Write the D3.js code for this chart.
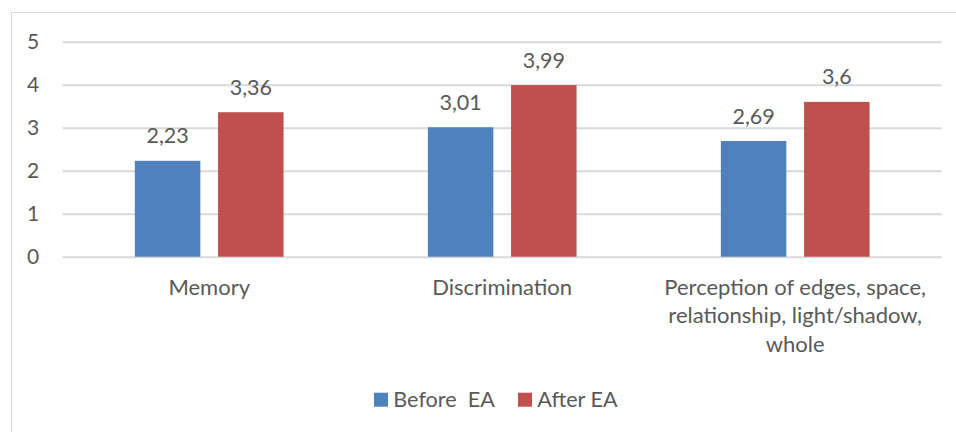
<!DOCTYPE html>
<html>
<head>
<meta charset="utf-8">
<script src="https://cdn.jsdelivr.net/npm/d3@7"></script>
<style>
  html, body { margin: 0; padding: 0; background: #fff; }
  svg text { font-family: Lato, "Open Sans", sans-serif; fill: #595959; }
</style>
</head>
<body>
<svg id="chart" width="956" height="432"></svg>
<script>
// Scores before and after the EA programme, per skill category
const categories = ["Memory", "Discrimination", "Perception of edges, space, relationship, light/shadow, whole"];
const categoryLines = [["Memory"], ["Discrimination"], ["Perception of edges, space,", "relationship, light/shadow,", "whole"]];
const seriesNames = ["Before  EA", "After EA"];
const beforeValues = [2.23, 3.01, 2.69];
const afterValues = [3.36, 3.99, 3.6];
const valueLabels = [["2,23", "3,01", "2,69"], ["3,36", "3,99", "3,6"]];
const yTicks = [0, 1, 2, 3, 4, 5];
const colors = ["#4F81BD", "#C0504D"];

const svg = d3.select("#chart");
const plot = { left: 62.7, right: 941.7, top: 41.7, bottom: 256.7 };

// outer frame
svg.append("rect")
  .attr("x", 11.5).attr("y", 12.5)
  .attr("width", 956).attr("height", 440)
  .attr("fill", "none").attr("stroke", "#D9D9D9").attr("stroke-width", 1);

const y = d3.scaleLinear().domain([0, 5]).range([plot.bottom, plot.top]);
const x0 = d3.scaleBand().domain(categories).range([plot.left, plot.right]).padding(0);
const groupWidth = 148.7;
const x1 = d3.scaleBand().domain(seriesNames)
  .range([0, groupWidth]).paddingInner(0.213).paddingOuter(0);

// horizontal gridlines and value axis labels
const yAxis = d3.axisLeft(y).tickValues(yTicks).tickFormat(d3.format("d"))
  .tickSize(-(plot.right - plot.left)).tickPadding(29.5);
const gy = svg.append("g").attr("transform", `translate(${plot.left},0)`).call(yAxis);
gy.select(".domain").remove();
gy.selectAll(".tick line").attr("stroke", "#D9D9D9").attr("stroke-width", 2);
gy.selectAll(".tick text")
  .attr("font-size", 21).attr("fill", "#595959").attr("text-anchor", "middle")
  .attr("dy", "0.34em")
  .style("font-family", "Lato, sans-serif");

const series = [beforeValues, afterValues];
const groupOffset = (x0.bandwidth() - groupWidth) / 2;

series.forEach((vals, si) => {
  const g = svg.append("g");
  g.selectAll("rect").data(vals).join("rect")
    .attr("x", (d, i) => x0(categories[i]) + groupOffset + x1(seriesNames[si]))
    .attr("y", d => y(d))
    .attr("width", x1.bandwidth())
    .attr("height", d => y(0) - y(d))
    .attr("fill", colors[si]);
  g.selectAll("text").data(vals).join("text")
    .attr("x", (d, i) => x0(categories[i]) + groupOffset + x1(seriesNames[si]) + x1.bandwidth() / 2)
    .attr("y", d => y(d) - 17.5)
    .attr("text-anchor", "middle")
    .attr("font-size", 21.5)
    .text((d, i) => valueLabels[si][i]);
});

// category labels below the axis
const gx = svg.append("g");
categories.forEach((c, i) => {
  const cx = x0(c) + x0.bandwidth() / 2;
  const t = gx.append("text")
    .attr("x", cx)
    .attr("y", 295)
    .attr("text-anchor", "middle")
    .attr("font-size", 22);
  categoryLines[i].forEach((line, li) => {
    t.append("tspan").attr("x", cx).attr("dy", li === 0 ? 0 : 28.3).text(line);
  });
});

// legend
const legend = svg.append("g");
const legendX = [374, 518];
seriesNames.forEach((s, i) => {
  legend.append("rect").attr("x", legendX[i]).attr("y", 392.7).attr("width", 14).attr("height", 14).attr("fill", colors[i]);
  legend.append("text").attr("x", legendX[i] + 19.3).attr("y", 406.8)
    .attr("font-size", 21.6).attr("xml:space", "preserve").style("white-space", "pre").text(s);
});
</script>
</body>
</html>
